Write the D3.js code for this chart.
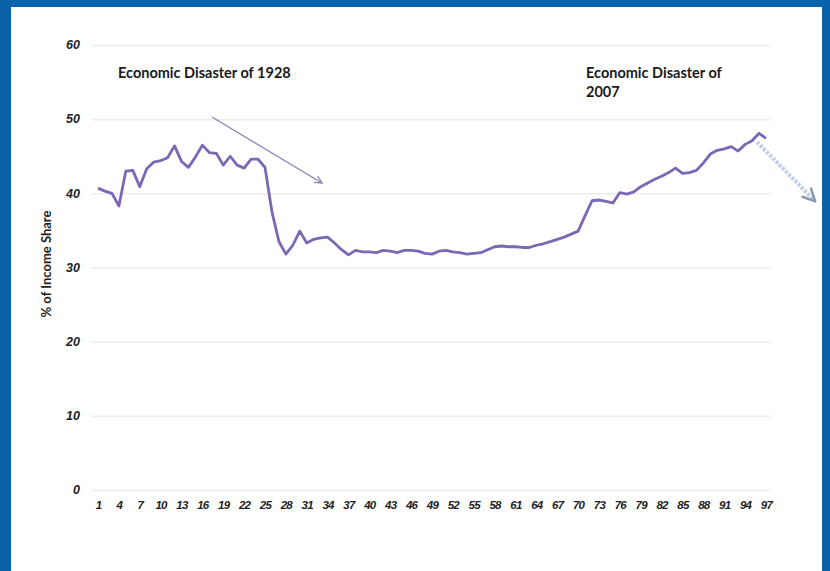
<!DOCTYPE html>
<html>
<head>
<meta charset="utf-8">
<script src="https://cdn.jsdelivr.net/npm/d3@7"></script>
<style>
  body { margin: 0; background: #fff; }
  svg { display: block; }
  .tick text { font-family: "Liberation Sans", Arial, sans-serif; font-weight: bold; font-style: italic; fill: #222; }
</style>
</head>
<body>
<div id="chart"></div>
<script>
// categories (years 1..97) and income share values
var years = d3.range(1, 98);
var share = [
  40.7, 40.3, 40.0, 38.3, 43.0, 43.1, 40.9, 43.3, 44.2, 44.4,
  44.8, 46.4, 44.3, 43.5, 44.9, 46.5, 45.5, 45.4, 43.8, 45.0,
  43.8, 43.4, 44.6, 44.6, 43.5, 37.5, 33.5, 31.8, 33.0, 34.9,
  33.3, 33.8, 34.0, 34.1, 33.3, 32.4, 31.7, 32.3, 32.1, 32.1,
  32.0, 32.3, 32.2, 32.0, 32.3, 32.3, 32.2, 31.9, 31.8, 32.2,
  32.3, 32.1, 32.0, 31.8, 31.9, 32.0, 32.4, 32.8, 32.9, 32.8,
  32.8, 32.7, 32.7, 33.0, 33.2, 33.5, 33.8, 34.1, 34.5, 34.9,
  37.0, 39.0, 39.1, 38.9, 38.7, 40.1, 39.9, 40.2, 40.9, 41.4,
  41.9, 42.3, 42.8, 43.4, 42.7, 42.8, 43.1, 44.1, 45.3, 45.8,
  46.0, 46.3, 45.7, 46.6, 47.1, 48.1, 47.4
];
var yTicks = [0, 10, 20, 30, 40, 50, 60];
var xTickLabels = [1, 4, 7, 10, 13, 16, 19, 22, 25, 28, 31, 34, 37, 40, 43, 46, 49,
  52, 55, 58, 61, 64, 67, 70, 73, 76, 79, 82, 85, 88, 91, 94, 97];

var svgWidth = 830, svgHeight = 571;
var svg = d3.select("#chart").append("svg")
    .attr("width", svgWidth)
    .attr("height", svgHeight);

// blue frame
svg.append("rect").attr("x", 0).attr("y", 0).attr("width", svgWidth).attr("height", 7).attr("fill", "#0a62a8");
svg.append("rect").attr("x", 0).attr("y", 0).attr("width", 11).attr("height", svgHeight).attr("fill", "#0a62a8");
svg.append("rect").attr("x", 822).attr("y", 0).attr("width", 8).attr("height", svgHeight).attr("fill", "#0a62a8");

var xScale = d3.scalePoint()
    .domain(years)
    .range([98, 766]);

var yScale = d3.scaleLinear()
    .domain([0, 60])
    .range([490, 45]);

// gridlines
svg.append("g")
    .attr("transform", "translate(92,0)")
    .call(d3.axisLeft(yScale).tickValues(yTicks).tickSize(-678).tickFormat(""))
    .call(g => g.select(".domain").remove())
    .call(g => g.selectAll("line").attr("stroke", "#ececec").attr("stroke-width", 1.5));

// y axis labels
svg.append("g")
    .attr("transform", "translate(80,0)")
    .call(d3.axisLeft(yScale).tickValues(yTicks).tickSize(0).tickPadding(0))
    .call(g => g.select(".domain").remove())
    .call(g => g.selectAll("text").attr("font-size", 12.5).attr("dy", "0.3em"));

// x axis labels
svg.append("g")
    .attr("transform", "translate(0,497)")
    .call(d3.axisBottom(xScale).tickValues(xTickLabels).tickSize(0).tickPadding(4))
    .call(g => g.select(".domain").remove())
    .call(g => g.selectAll("text").attr("font-size", 11.5).attr("letter-spacing", "-0.7px"));

// y axis title
svg.append("text")
    .attr("transform", "translate(51,264) rotate(-90)")
    .attr("text-anchor", "middle")
    .attr("font-family", "Lato, 'Open Sans', sans-serif")
    .attr("font-weight", "bold")
    .attr("font-size", 13)
    .attr("fill", "#222")
    .text("% of Income Share");

// the line
var line = d3.line()
    .x((d, i) => xScale(years[i]))
    .y(d => yScale(d));

svg.append("path")
    .datum(share)
    .attr("d", line)
    .attr("fill", "none")
    .attr("stroke", "#7b68b4")
    .attr("stroke-width", 2.8)
    .attr("stroke-linejoin", "round");

// annotations
var defs = svg.append("defs");
defs.append("marker")
    .attr("id", "head1")
    .attr("viewBox", "0 0 10 10")
    .attr("refX", 9).attr("refY", 5)
    .attr("markerWidth", 7).attr("markerHeight", 7)
    .attr("orient", "auto")
  .append("path")
    .attr("d", "M1,1 L9,5 L1,9")
    .attr("fill", "none")
    .attr("stroke", "#8a82b8")
    .attr("stroke-width", 1.4);

defs.append("marker")
    .attr("id", "head2")
    .attr("viewBox", "0 0 10 10")
    .attr("refX", 8).attr("refY", 5)
    .attr("markerWidth", 4).attr("markerHeight", 4)
    .attr("orient", "auto")
  .append("path")
    .attr("d", "M1,1 L9,5 L1,9")
    .attr("fill", "none")
    .attr("stroke", "#8a98b4")
    .attr("stroke-width", 1.6);

svg.append("line")
    .attr("x1", 212).attr("y1", 117)
    .attr("x2", 322).attr("y2", 183)
    .attr("stroke", "#8a82b8")
    .attr("stroke-width", 1.3)
    .attr("marker-end", "url(#head1)");

svg.append("line")
    .attr("x1", 757).attr("y1", 142)
    .attr("x2", 814).attr("y2", 200)
    .attr("stroke", "#c2cee4")
    .attr("stroke-width", 4)
    .attr("stroke-dasharray", "3,1.5")
    .attr("marker-end", "url(#head2)");

var labelFont = "Lato, 'Open Sans', sans-serif";
svg.append("text")
    .attr("x", 118).attr("y", 78)
    .attr("font-family", labelFont)
    .attr("font-weight", "bold")
    .attr("font-size", 14.5)
    .attr("fill", "#1a1a1a")
    .text("Economic Disaster of 1928");

svg.append("text")
    .attr("x", 586).attr("y", 78)
    .attr("font-family", labelFont)
    .attr("font-weight", "bold")
    .attr("font-size", 14.5)
    .attr("fill", "#1a1a1a")
    .text("Economic Disaster of");

svg.append("text")
    .attr("x", 586).attr("y", 97)
    .attr("font-family", labelFont)
    .attr("font-weight", "bold")
    .attr("font-size", 14.5)
    .attr("fill", "#1a1a1a")
    .text("2007");
</script>
</body>
</html>
